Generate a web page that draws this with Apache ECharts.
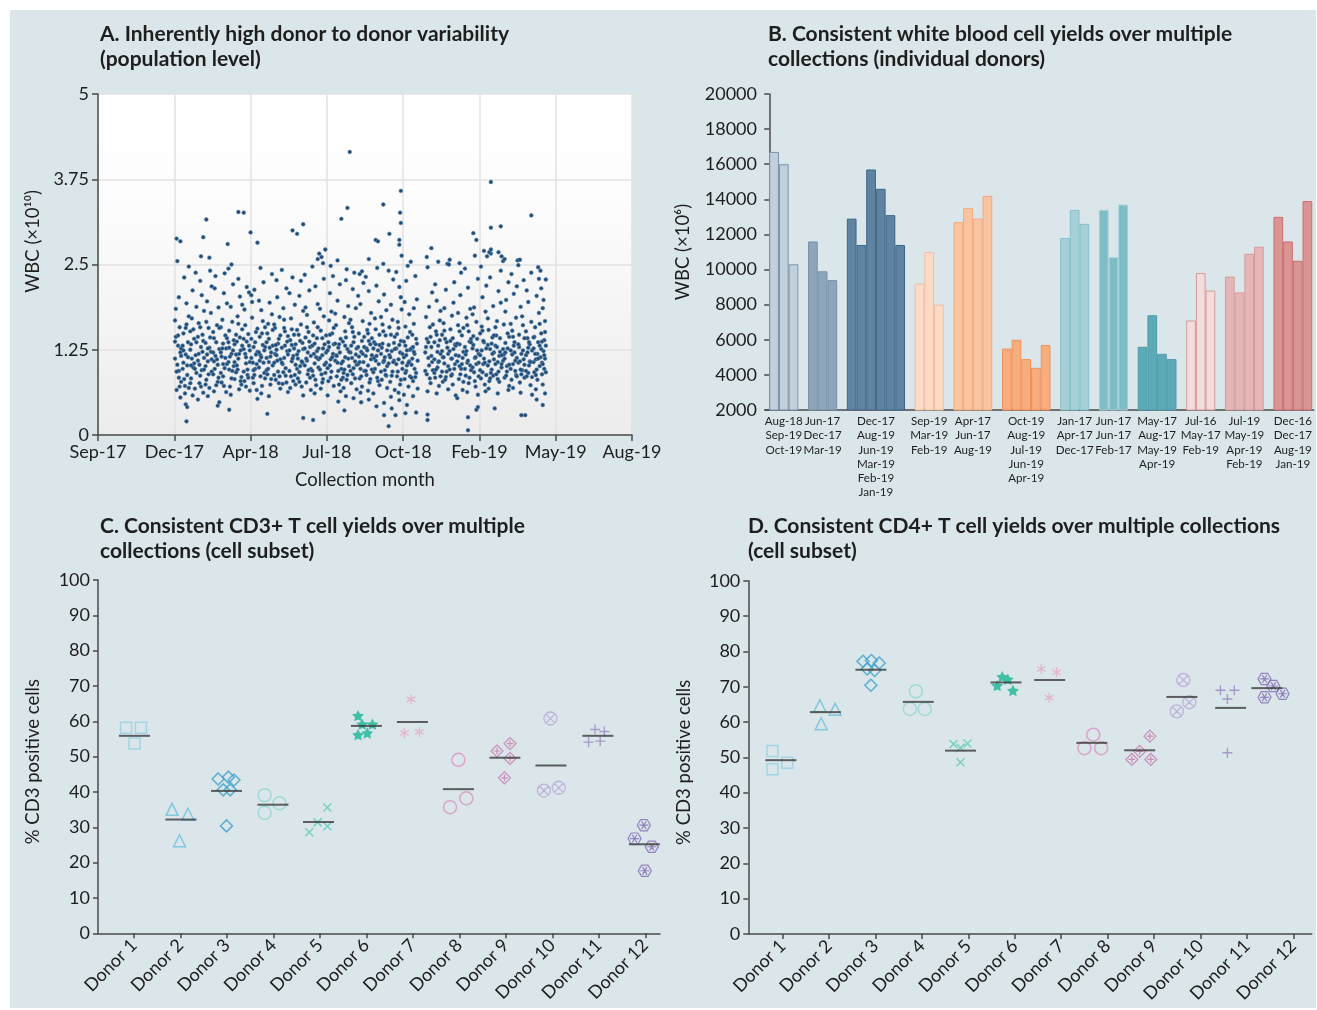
<!DOCTYPE html>
<html><head><meta charset="utf-8">
<script src="https://cdn.jsdelivr.net/npm/echarts/dist/echarts.min.js"></script>
<style>
html,body{margin:0;padding:0;background:#fff;}
#bg{position:absolute;left:10px;top:10px;width:1306px;height:998px;background:#dae6ea;}
#chart{position:absolute;left:0;top:0;width:1317px;height:1010px;}
</style></head><body><div id="bg"></div><div id="chart"></div>
<script>
// ---------- Panel A data ----------
const wbcTickLabels = ['Sep-17','Dec-17','Apr-18','Jul-18','Oct-18','Feb-19','May-19','Aug-19'];
const wbcPoints = [
[1.01,1.12],[1.02,1.85],[1.03,0.66],[1.04,2.55],[1.05,1.31],[1.06,0.94],[1.07,1.58],[1.08,1.21],[1.09,0.78],[1.02,1.44],[1.04,1.03],[1.06,2.02],[1.08,0.55],[1.01,1.68],[1.09,1.27],
[1.11,0.97],[1.12,1.49],[1.13,2.31],[1.14,0.72],[1.15,1.18],[1.16,1.62],[1.17,0.88],[1.18,1.36],[1.19,2.47],[1.12,1.06],[1.14,0.61],[1.16,1.93],[1.18,1.14],[1.15,0.45],[1.19,1.74],
[1.21,1.25],[1.22,0.83],[1.23,1.71],[1.24,2.12],[1.25,0.99],[1.26,1.41],[1.27,0.68],[1.28,1.17],[1.29,1.88],[1.22,1.33],[1.24,0.58],[1.26,1.05],[1.28,2.38],[1.21,1.52],[1.29,0.91],
[1.31,1.09],[1.32,1.64],[1.33,0.76],[1.34,2.26],[1.35,1.29],[1.36,0.95],[1.37,1.47],[1.38,0.62],[1.39,1.82],[1.32,1.19],[1.34,0.87],[1.36,2.05],[1.38,1.38],[1.31,0.52],[1.39,1.13],
[1.41,1.35],[1.42,0.81],[1.43,1.96],[1.44,1.08],[1.45,1.57],[1.46,0.69],[1.47,2.41],[1.48,1.22],[1.49,0.93],[1.42,1.66],[1.44,0.57],[1.46,1.28],[1.48,1.79],[1.41,1.01],[1.49,2.18],
[1.51,0.89],[1.52,1.42],[1.53,2.15],[1.54,1.16],[1.55,0.73],[1.56,1.61],[1.57,1.03],[1.58,1.87],[1.59,1.26],[1.52,0.64],[1.54,2.33],[1.56,1.11],[1.58,0.84],[1.51,1.51],[1.59,0.48],
[1.61,1.21],[1.62,0.77],[1.63,1.69],[1.64,1.34],[1.65,2.08],[1.66,0.98],[1.67,1.46],[1.68,0.63],[1.69,1.93],[1.62,1.15],[1.64,0.86],[1.66,2.37],[1.68,1.27],[1.61,1.58],[1.69,1.04],
[1.71,1.07],[1.72,1.53],[1.73,0.71],[1.74,1.88],[1.75,1.19],[1.76,0.94],[1.77,2.21],[1.78,1.39],[1.79,0.82],[1.72,1.28],[1.74,0.59],[1.76,1.66],[1.78,1.01],[1.71,2.44],[1.79,1.33],
[1.81,0.92],[1.82,1.37],[1.83,1.74],[1.84,1.12],[1.85,0.67],[1.86,2.03],[1.87,1.24],[1.88,0.85],[1.89,1.55],[1.82,1.02],[1.84,2.29],[1.86,1.43],[1.88,0.74],[1.81,1.18],[1.89,1.91],
[1.91,1.26],[1.92,0.79],[1.93,1.61],[1.94,1.05],[1.95,2.17],[1.96,0.96],[1.97,1.48],[1.98,1.31],[1.99,0.65],[1.92,1.84],[1.94,1.14],[1.96,0.88],[1.98,2.09],[1.91,1.41],[1.99,1.07],
[2.01,1.13],[2.02,1.72],[2.03,0.84],[2.04,1.29],[2.05,2.13],[2.06,0.97],[2.07,1.51],[2.08,0.66],[2.09,1.22],[2.02,1.95],[2.04,0.76],[2.06,1.36],[2.08,1.04],[2.01,2.05],[2.09,0.53],
[2.11,0.99],[2.12,1.44],[2.13,1.17],[2.14,1.83],[2.15,0.72],[2.16,1.32],[2.17,2.24],[2.18,0.91],[2.19,1.58],[2.12,1.09],[2.14,0.61],[2.16,1.67],[2.18,1.24],[2.11,1.97],[2.19,0.83],
[2.21,1.36],[2.22,0.89],[2.23,1.63],[2.24,1.07],[2.25,1.94],[2.26,0.74],[2.27,1.21],[2.28,2.36],[2.29,1.02],[2.22,1.49],[2.24,0.57],[2.26,1.15],[2.28,1.77],[2.21,0.95],[2.29,1.31],
[2.31,1.06],[2.32,1.57],[2.33,0.81],[2.34,1.25],[2.35,2.02],[2.36,0.93],[2.37,1.41],[2.38,1.73],[2.39,0.68],[2.32,1.19],[2.34,2.27],[2.36,1.34],[2.38,0.86],[2.31,1.62],[2.39,1.11],
[2.41,1.28],[2.42,0.75],[2.43,1.86],[2.44,1.13],[2.45,1.52],[2.46,0.98],[2.47,2.15],[2.48,1.37],[2.49,0.63],[2.42,1.04],[2.44,1.69],[2.46,0.87],[2.48,1.23],[2.41,2.42],[2.49,1.45],
[2.51,0.94],[2.52,1.39],[2.53,1.71],[2.54,1.08],[2.55,2.31],[2.56,0.79],[2.57,1.27],[2.58,1.91],[2.59,1.03],[2.52,0.69],[2.54,1.55],[2.56,1.16],[2.58,0.88],[2.51,2.08],[2.59,1.33],
[2.61,1.18],[2.62,0.83],[2.63,1.47],[2.64,2.04],[2.65,1.01],[2.66,1.62],[2.67,0.71],[2.68,1.35],[2.69,1.82],[2.62,1.12],[2.64,0.92],[2.66,2.26],[2.68,1.06],[2.61,1.54],[2.69,0.58],
[2.71,1.02],[2.72,1.43],[2.73,0.77],[2.74,1.76],[2.75,1.21],[2.76,0.95],[2.77,2.12],[2.78,1.29],[2.79,0.66],[2.72,1.87],[2.74,1.09],[2.76,1.51],[2.78,0.84],[2.71,2.35],[2.79,1.16],
[2.81,1.31],[2.82,0.87],[2.83,1.65],[2.84,1.05],[2.85,2.18],[2.86,0.73],[2.87,1.23],[2.88,1.92],[2.89,0.99],[2.82,1.46],[2.84,0.61],[2.86,1.14],[2.88,1.58],[2.81,2.47],[2.89,1.27],
[2.91,0.96],[2.92,1.53],[2.93,2.61],[2.94,1.17],[2.95,0.82],[2.96,1.74],[2.97,1.33],[2.98,2.72],[2.99,1.06],[2.92,0.68],[2.94,1.42],[2.96,2.29],[2.98,0.91],[2.91,1.85],[2.99,1.21],[2.95,2.52],
[3.01,1.24],[3.02,0.79],[3.03,1.68],[3.04,2.08],[3.05,1.11],[3.06,0.93],[3.07,1.49],[3.08,2.33],[3.09,0.72],[3.02,1.36],[3.04,1.02],[3.06,1.81],[3.08,1.19],[3.01,0.58],[3.09,1.57],[3.05,2.48],
[3.11,1.09],[3.12,1.61],[3.13,0.86],[3.14,1.97],[3.15,1.28],[3.16,0.74],[3.17,2.21],[3.18,1.41],[3.19,0.97],[3.12,1.17],[3.14,2.56],[3.16,1.33],[3.18,0.64],[3.11,1.78],[3.19,1.05],[3.15,0.49],
[3.21,1.37],[3.22,0.91],[3.23,1.73],[3.24,1.14],[3.25,2.27],[3.26,0.81],[3.27,1.26],[3.28,1.89],[3.29,1.01],[3.22,0.69],[3.24,1.52],[3.26,2.43],[3.28,1.12],[3.21,0.84],[3.29,1.64],[3.25,0.57],
[3.31,1.21],[3.32,0.76],[3.33,1.58],[3.34,2.14],[3.35,0.98],[3.36,1.44],[3.37,1.08],[3.38,1.86],[3.39,0.67],[3.32,1.31],[3.34,0.89],[3.36,2.38],[3.38,1.18],[3.31,1.69],[3.39,1.03],[3.35,0.54],
[3.41,1.04],[3.42,1.49],[3.43,0.83],[3.44,1.92],[3.45,1.22],[3.46,0.71],[3.47,1.67],[3.48,2.23],[3.49,0.94],[3.42,1.15],[3.44,0.62],[3.46,1.38],[3.48,1.07],[3.41,2.04],[3.49,1.29],[3.45,0.48],
[3.51,1.16],[3.52,0.88],[3.53,1.54],[3.54,1.02],[3.55,2.11],[3.56,0.77],[3.57,1.33],[3.58,1.79],[3.59,0.96],[3.52,1.27],[3.54,0.65],[3.56,1.63],[3.58,1.11],[3.51,2.32],[3.59,1.42],[3.55,0.52],
[3.61,0.92],[3.62,1.36],[3.63,1.71],[3.64,1.09],[3.65,2.19],[3.66,0.84],[3.67,1.24],[3.68,1.96],[3.69,0.73],[3.62,1.13],[3.64,1.55],[3.66,2.45],[3.68,1.04],[3.61,0.61],[3.69,1.32],[3.65,0.42],
[3.71,1.19],[3.72,0.81],[3.73,1.62],[3.74,1.07],[3.75,2.06],[3.76,0.95],[3.77,1.46],[3.78,1.83],[3.79,0.69],[3.72,1.28],[3.74,2.51],[3.76,1.14],[3.78,0.87],[3.71,1.73],[3.79,1.01],[3.75,0.47],
[3.81,1.05],[3.82,1.58],[3.83,0.78],[3.84,1.91],[3.85,1.23],[3.86,0.93],[3.87,2.28],[3.88,1.35],[3.89,0.66],[3.82,1.17],[3.84,0.56],[3.86,1.69],[3.88,1.09],[3.81,2.41],[3.89,1.44],[3.85,0.39],
[3.91,1.27],[3.92,0.86],[3.93,1.66],[3.94,1.11],[3.95,2.17],[3.96,0.74],[3.97,1.38],[3.98,2.63],[3.99,0.97],[3.92,1.48],[3.94,0.62],[3.96,1.21],[3.98,1.84],[3.91,2.39],[3.99,1.06],[3.95,0.51],[3.97,2.02],
[4.01,1.14],[4.02,0.82],[4.03,1.59],[4.04,2.26],[4.05,1.02],[4.06,1.43],[4.07,0.71],[4.08,1.77],[4.09,1.25],[4.02,1.95],[4.04,0.94],[4.06,2.48],[4.08,1.08],[4.01,0.59],[4.09,1.51],[4.05,0.44],[4.03,1.31],
[4.11,1.03],[4.12,1.47],[4.13,0.79],[4.14,1.86],[4.15,1.19],[4.16,2.33],[4.17,0.91],[4.18,1.34],[4.19,0.68],[4.12,1.12],[4.14,1.63],[4.16,0.85],[4.18,1.99],[4.11,1.27],[4.13,0.57],
[4.29,1.21],[4.30,1.73],[4.31,0.89],[4.32,2.46],[4.33,1.36],[4.34,1.02],[4.35,1.58],[4.36,0.76],[4.37,1.16],[4.38,2.09],[4.39,0.95],[4.30,1.29],[4.32,0.64],[4.34,1.88],[4.36,1.44],[4.31,2.61],[4.38,1.07],
[4.41,1.11],[4.42,0.84],[4.43,1.52],[4.44,1.97],[4.45,0.99],[4.46,1.31],[4.47,0.72],[4.48,1.68],[4.49,1.19],[4.42,2.21],[4.44,0.61],[4.46,1.07],[4.48,1.39],[4.41,0.91],[4.49,1.82],
[4.51,1.23],[4.52,0.78],[4.53,1.64],[4.54,1.05],[4.55,1.41],[4.56,2.13],[4.57,0.93],[4.58,1.28],[4.59,0.67],[4.52,1.14],[4.54,1.86],[4.56,0.85],[4.58,2.51],[4.51,1.47],[4.59,1.01],
[4.61,0.96],[4.62,1.38],[4.63,1.12],[4.64,1.75],[4.65,0.74],[4.66,1.26],[4.67,2.24],[4.68,1.04],[4.69,0.58],[4.62,1.55],[4.64,0.89],[4.66,1.94],[4.68,1.33],[4.61,2.57],[4.69,1.17],
[4.71,1.08],[4.72,1.61],[4.73,0.82],[4.74,1.33],[4.75,2.05],[4.76,0.97],[4.77,1.46],[4.78,0.66],[4.79,1.22],[4.72,1.79],[4.74,1.01],[4.76,2.38],[4.78,1.13],[4.71,0.54],[4.79,1.57],
[4.81,1.29],[4.82,0.87],[4.83,1.72],[4.84,1.06],[4.85,2.16],[4.86,0.76],[4.87,1.37],[4.88,1.85],[4.89,0.95],[4.82,1.18],[4.84,0.63],[4.86,1.52],[4.88,1.02],[4.81,2.44],[4.89,1.41],
[4.91,0.99],[4.92,1.45],[4.93,1.87],[4.94,1.13],[4.95,0.71],[4.96,1.66],[4.97,1.24],[4.98,2.29],[4.99,0.86],[4.92,1.32],[4.94,2.63],[4.96,1.04],[4.98,0.59],[4.91,1.77],[4.99,1.19],
[5.01,1.17],[5.02,0.83],[5.03,1.59],[5.04,2.02],[5.05,1.04],[5.06,1.36],[5.07,0.74],[5.08,1.81],[5.09,1.27],[5.02,2.47],[5.04,0.92],[5.06,1.12],[5.08,0.64],[5.01,1.49],[5.09,2.19],
[5.11,1.02],[5.12,1.54],[5.13,0.79],[5.14,1.26],[5.15,2.66],[5.16,0.96],[5.17,1.43],[5.18,1.89],[5.19,1.11],[5.12,0.68],[5.14,2.31],[5.16,1.34],[5.18,0.87],[5.11,1.71],[5.19,1.21],[5.15,2.72],
[5.21,1.31],[5.22,0.89],[5.23,1.67],[5.24,1.07],[5.25,2.11],[5.26,0.78],[5.27,1.22],[5.28,1.94],[5.29,0.99],[5.22,1.46],[5.24,0.61],[5.26,1.16],[5.28,2.41],[5.21,1.58],[5.29,1.04],
[5.31,1.09],[5.32,1.62],[5.33,0.84],[5.34,1.35],[5.35,1.98],[5.36,0.93],[5.37,1.27],[5.38,2.24],[5.39,0.72],[5.32,1.18],[5.34,1.81],[5.36,1.01],[5.38,0.66],[5.31,2.55],[5.39,1.44],
[5.41,1.24],[5.42,0.81],[5.43,1.53],[5.44,1.04],[5.45,2.07],[5.46,1.36],[5.47,0.94],[5.48,1.72],[5.49,1.13],[5.42,2.36],[5.44,0.69],[5.46,1.21],[5.48,0.88],[5.41,1.63],[5.49,2.18],
[5.51,1.06],[5.52,1.47],[5.53,0.77],[5.54,1.88],[5.55,1.19],[5.56,0.95],[5.57,1.61],[5.58,2.27],[5.59,1.03],[5.52,1.29],[5.54,0.62],[5.56,1.74],[5.58,1.11],[5.51,2.49],[5.59,0.84],
[5.61,1.17],[5.62,0.86],[5.63,1.42],[5.64,1.95],[5.65,1.02],[5.66,1.33],[5.67,0.73],[5.68,1.66],[5.69,1.24],[5.62,2.12],[5.64,0.91],[5.66,1.08],[5.68,2.38],[5.61,1.52],[5.69,0.59],
[5.71,1.27],[5.72,0.92],[5.73,1.58],[5.74,1.11],[5.75,2.04],[5.76,0.81],[5.77,1.36],[5.78,1.79],[5.79,1.01],[5.72,1.44],[5.74,0.67],[5.76,1.19],[5.78,2.29],[5.71,1.07],[5.79,1.63],[5.75,0.52],[5.77,2.46],
[5.80,1.14],[5.81,1.49],[5.82,0.89],[5.83,1.86],[5.84,1.23],[5.85,0.97],[5.86,1.67],[5.87,1.31],[5.81,2.15],[5.83,0.74],[5.85,1.39],[5.87,2.28],[5.82,1.06],[5.84,1.98],[5.86,0.61],[5.80,2.41],[5.86,1.12],
[3.30,4.15],[5.15,3.71],[3.97,3.58],[3.74,3.38],[5.68,3.22],[3.27,3.33],[3.19,3.17],[5.15,3.04],[5.28,3.06],[3.96,3.26],[3.82,2.95],[3.64,2.86],[3.67,2.84],[3.95,2.86],[3.97,3.11],
[1.42,3.16],[1.84,3.27],[1.91,3.26],[2.55,3.00],[2.61,2.95],[2.69,3.09],[1.38,2.90],[2.00,2.97],[2.09,2.82],[1.70,2.80],[1.03,2.88],[1.08,2.84],
[1.16,0.20],[1.17,0.41],[2.69,0.25],[2.82,0.22],[2.22,0.31],[1.72,0.37],[1.57,0.43],[2.96,0.33],[4.85,0.07],[4.85,0.26],[3.81,0.13],[3.75,0.29],[3.90,0.29],[4.32,0.22],[4.32,0.30],[4.17,0.33],[4.03,0.32],[3.23,0.36],[4.96,0.37],[5.60,0.29],[5.55,0.29],[5.20,0.39],[5.83,0.44],[4.98,0.41],
[4.37,2.74],[4.46,2.54],[4.60,2.50],[4.74,2.52],[4.92,2.96],[4.96,2.86],[5.06,2.70],[5.10,2.62],[5.13,2.68],[5.25,2.68],[5.29,2.62],[5.33,2.58],[5.50,2.56],[5.53,2.57],[3.95,2.79],[4.10,2.54],[3.55,2.58],[3.43,2.36],[3.46,2.40],[2.90,2.66],[2.88,2.58],[2.13,2.45],[1.35,2.62],[1.46,2.60],[1.75,2.50],
[1.03,0.93],[1.05,1.46],[1.07,0.71],[1.09,1.16],[1.01,1.37],[1.06,0.84],[1.11,1.31],[1.13,0.82],[1.15,1.57],[1.17,1.02],[1.19,0.69],[1.12,1.24],
[1.21,0.76],[1.23,1.12],[1.25,1.55],[1.27,0.97],[1.29,1.36],[1.22,1.02],[1.31,1.44],[1.33,1.03],[1.35,0.71],[1.37,1.22],[1.39,0.96],[1.34,1.58],
[1.41,0.74],[1.43,1.18],[1.45,0.89],[1.47,1.43],[1.49,1.11],[1.44,1.27],[1.51,1.21],[1.53,0.97],[1.55,1.36],[1.57,0.78],[1.59,1.57],[1.52,1.08],
[1.61,0.91],[1.63,1.27],[1.65,0.72],[1.67,1.13],[1.69,1.42],[1.64,1.04],[1.71,1.36],[1.73,1.15],[1.75,0.83],[1.77,1.24],[1.79,1.07],[1.72,0.96],
[1.81,1.47],[1.83,0.96],[1.85,1.19],[1.87,0.79],[1.89,1.31],[1.84,1.63],[1.91,0.93],[1.93,1.19],[1.95,1.37],[1.97,0.84],[1.99,1.24],[1.94,0.71],
[2.01,1.41],[2.03,1.06],[2.05,0.88],[2.07,1.18],[2.09,1.56],[2.04,0.95],[2.11,1.21],[2.13,0.86],[2.15,1.49],[2.17,1.06],[2.19,1.29],[2.14,1.14],
[2.21,1.13],[2.23,0.97],[2.25,1.28],[2.27,0.82],[2.29,1.54],[2.24,1.41],[2.31,0.88],[2.33,1.32],[2.35,1.09],[2.37,0.76],[2.39,1.46],[2.34,1.17],
[2.41,1.06],[2.43,0.92],[2.45,1.31],[2.47,0.77],[2.49,1.18],[2.44,1.57],[2.51,1.24],[2.53,0.86],[2.55,1.12],[2.57,1.47],[2.59,0.74],[2.54,1.32],
[2.61,0.97],[2.63,1.23],[2.65,1.38],[2.67,1.08],[2.69,1.26],[2.64,0.78],[2.71,1.27],[2.73,1.12],[2.75,0.89],[2.77,1.37],[2.79,0.97],[2.74,1.58],
[2.81,0.94],[2.83,1.19],[2.85,0.81],[2.87,1.42],[2.89,1.11],[2.84,1.34],[2.91,1.13],[2.93,0.89],[2.95,1.27],[2.97,1.03],[2.99,1.46],[2.94,0.77],
[3.01,0.98],[3.03,1.29],[3.05,0.84],[3.07,1.14],[3.09,1.33],[3.04,1.47],[3.11,1.34],[3.13,1.16],[3.15,0.94],[3.17,1.21],[3.19,0.81],[3.14,1.06],
[3.21,1.08],[3.23,0.96],[3.25,1.43],[3.27,0.88],[3.29,1.22],[3.24,1.31],[3.31,0.94],[3.33,1.13],[3.35,1.36],[3.37,0.83],[3.39,1.27],[3.34,1.51],
[3.41,1.29],[3.43,1.07],[3.45,0.86],[3.47,1.19],[3.49,1.44],[3.44,0.97],[3.51,0.94],[3.53,1.24],[3.55,1.38],[3.57,0.82],[3.59,1.17],[3.54,1.49],
[3.61,1.27],[3.63,0.97],[3.65,1.16],[3.67,0.79],[3.69,1.47],[3.64,1.33],[3.71,0.93],[3.73,1.34],[3.75,1.09],[3.77,0.88],[3.79,1.24],[3.74,1.52],
[3.81,1.32],[3.83,1.14],[3.85,0.87],[3.87,1.07],[3.89,1.26],[3.84,1.47],[3.91,1.04],[3.93,0.93],[3.95,1.32],[3.97,0.81],[3.99,1.19],[3.94,1.57],
[4.01,1.37],[4.03,0.91],[4.05,1.24],[4.07,1.06],[4.09,0.86],[4.04,1.17],[4.11,0.84],[4.13,1.29],[4.15,0.97],[4.17,1.41],[4.19,1.09],[4.14,1.22],
[4.29,0.94],[4.31,1.41],[4.33,1.13],[4.35,0.83],[4.37,1.29],[4.39,1.62],[4.41,1.36],[4.43,0.96],[4.45,1.22],[4.47,1.08],[4.49,0.86],[4.44,1.47],
[4.51,0.93],[4.53,1.14],[4.55,0.81],[4.57,1.36],[4.59,1.19],[4.54,1.53],[4.61,1.23],[4.63,0.87],[4.65,1.42],[4.67,0.97],[4.69,1.31],[4.64,1.12],
[4.71,1.34],[4.73,1.16],[4.75,0.89],[4.77,1.04],[4.79,0.78],[4.74,1.52],[4.81,0.97],[4.83,1.23],[4.85,1.09],[4.87,0.84],[4.89,1.36],[4.84,1.61],
[4.91,1.27],[4.93,0.92],[4.95,1.14],[4.97,1.41],[4.99,1.06],[4.94,0.79],[5.01,0.95],[5.03,1.24],[5.05,1.38],[5.07,1.06],[5.09,0.88],[5.04,1.53],
[5.11,1.32],[5.13,1.08],[5.15,0.91],[5.17,1.19],[5.19,1.46],[5.14,0.83],[5.21,1.04],[5.23,1.29],[5.25,0.93],[5.27,1.42],[5.29,1.17],[5.24,0.82],
[5.31,1.26],[5.33,1.12],[5.35,0.87],[5.37,1.49],[5.39,1.03],[5.34,1.21],[5.41,0.97],[5.43,1.18],[5.45,1.31],[5.47,1.09],[5.49,0.86],[5.44,1.44],
[5.51,1.33],[5.53,1.08],[5.55,0.89],[5.57,1.24],[5.59,1.42],[5.54,0.96],[5.61,0.94],[5.63,1.21],[5.65,1.36],[5.67,1.07],[5.69,0.85],[5.64,1.28],
[5.71,1.43],[5.73,1.19],[5.75,0.96],[5.77,1.12],[5.79,1.31],[5.74,0.88],[5.81,1.26],[5.83,1.04],[5.85,1.17],[5.87,0.92],[5.82,1.37],[5.86,1.51]
];

// ---------- Panel B data ----------
const donorGroupMonths = [
  ['Aug-18','Sep-19','Oct-19'],
  ['Jun-17','Dec-17','Mar-19'],
  ['Dec-17','Aug-19','Jun-19','Mar-19','Feb-19','Jan-19'],
  ['Sep-19','Mar-19','Feb-19'],
  ['Apr-17','Jun-17','Aug-19'],
  ['Oct-19','Aug-19','Jul-19','Jun-19','Apr-19'],
  ['Jan-17','Apr-17','Dec-17'],
  ['Jun-17','Jun-17','Feb-17'],
  ['May-17','Aug-17','May-19','Apr-19'],
  ['Jul-16','May-17','Feb-19'],
  ['Jul-19','May-19','Apr-19','Feb-19'],
  ['Dec-16','Dec-17','Aug-19','Jan-19']
];
const donorGroupValues = [
  [16700,16000,10300],
  [11600,9900,9400],
  [12900,11400,15700,14600,13100,11400],
  [9200,11000,8000],
  [12700,13500,12900,14200],
  [5500,6000,4900,4400,5700],
  [11800,13400,12600],
  [13400,10700,13700],
  [5600,7400,5200,4900],
  [7100,9800,8800],
  [9600,8700,10900,11300],
  [13000,11600,10500,13900]
];
const wbcYTicks = [2000, 20000, 2000]; // min, max, step

// ---------- Panels C & D data ----------
const donorNames = ['Donor 1','Donor 2','Donor 3','Donor 4','Donor 5','Donor 6','Donor 7','Donor 8','Donor 9','Donor 10','Donor 11','Donor 12'];
const cd3Points = [
  [[0.83,58.2],[1.15,58.2],[1.01,53.7]],
  [[1.82,35.1],[2.16,33.7],[1.98,26.2]],
  [[2.81,43.7],[3.03,44.2],[3.15,43.4],[2.92,40.6],[3.07,40.6],[2.99,30.4]],
  [[3.81,39.1],[4.13,36.8],[3.81,34.1]],
  [[5.16,35.6],[4.95,31.4],[5.16,30.3],[4.77,28.6]],
  [[5.82,61.6],[5.91,59.2],[6.13,59.2],[5.82,56.2],[6.02,56.7]],
  [[6.96,66.2],[6.82,56.7],[7.14,57.0]],
  [[7.98,49.1],[8.15,38.2],[7.80,35.7]],
  [[8.81,51.6],[9.09,53.7],[9.09,49.5],[8.97,44.0]],
  [[9.96,60.8],[9.82,40.4],[10.14,41.2]],
  [[10.92,57.7],[11.12,57.1],[10.78,54.1],[11.03,54.4]],
  [[11.97,30.6],[11.77,26.8],[12.14,24.5],[11.99,17.7]]
];
const cd3Means = [[1.01,55.9],[2.01,32.2],[2.99,40.3],[3.99,36.4],[4.97,31.5],[6.00,58.7],[6.99,59.8],[7.98,40.8],[8.98,49.7],[9.97,47.5],[10.98,55.9],[11.98,25.2]];
const cd4Points = [
  [[0.78,51.8],[0.78,46.6],[1.10,48.5]],
  [[1.80,64.6],[2.13,63.6],[1.83,59.5]],
  [[2.73,77.2],[2.91,77.4],[3.08,76.7],[2.82,75.0],[2.98,74.6],[2.90,70.4]],
  [[3.87,68.7],[3.74,63.7],[4.06,63.7]],
  [[4.68,53.8],[4.83,52.7],[4.98,53.9],[4.83,48.6]],
  [[5.73,72.8],[5.85,72.1],[5.62,70.3],[5.96,68.9]],
  [[6.57,75.0],[6.90,74.1],[6.74,66.9]],
  [[7.69,56.4],[7.50,52.6],[7.86,52.6]],
  [[8.91,56.0],[8.69,51.7],[8.52,49.4],[8.93,49.4]],
  [[9.63,71.9],[9.76,65.6],[9.49,63.0]],
  [[10.43,69.0],[10.73,69.0],[10.58,66.5],[10.58,51.3]],
  [[11.38,72.2],[11.57,70.2],[11.77,68.0],[11.38,67.0]]
];
const cd4Means = [[0.96,49.2],[1.92,62.8],[2.90,74.8],[3.92,65.7],[4.83,51.9],[5.81,71.2],[6.75,71.9],[7.66,54.1],[8.69,52.0],[9.60,67.1],[10.65,64.0],[11.43,69.6]];
const donorTicks = [1,2,3,4,5,6,7,8,9,10,11,12];
const pctTicks = [0, 100, 10];

// ---------- styles ----------
const FONT = 'Lato';
const TXT = '#1e1e1e';
const AX = '#4a4a4a';
const TICK_FS = 18;
const NAME_FS = 18.5;
const groupFill = ['#c2d0db','#8ea6bc','#5f84a2','#fddbc6','#fac4a0','#f7ad7e','#a6d0d7','#80bcc6','#5caab7','#f3dcdc','#e6b5b5','#db9494'];
const groupBorder = ['#7b94ad','#7790a8','#3f6586','#f6bc9b','#f3a87c','#ef9159','#86c0ca','#a3d1d8','#4e9dab','#d49a9a','#d29c9c','#c86d6d'];
const donorSymbols = [
  'rect','triangle','diamond','circle',
  'path://M0,0L10,10M10,0L0,10',
  'path://M10,0L12.94,5.95L19.51,6.91L14.76,11.55L15.88,18.09L10,15L4.12,18.09L5.24,11.55L0.49,6.91L7.06,5.95Z',
  'path://M5,0L5,10M0.67,2.5L9.33,7.5M0.67,7.5L9.33,2.5',
  'circle',
  'path://M5,0L10,5L5,10L0,5ZM5,2.2L5,7.8M2.2,5L7.8,5',
  'path://M10,5A5,5,0,1,1,0,5A5,5,0,1,1,10,5ZM1.46,1.46L8.54,8.54M8.54,1.46L1.46,8.54',
  'path://M5,0L5,10M0,5L10,5',
  'path://M2.5,0.67L7.5,0.67L10,5L7.5,9.33L2.5,9.33L0,5ZM3.3,2L6.7,8M6.7,2L3.3,8M1.5,5L8.5,5'
];
const donorSizes = [11,12,12,13,8,12,10,13,12,13,10,13];
const donorWidths = [1.5,1.5,1.5,1.5,1.5,0,1.3,1.5,1.2,1.3,1.4,1.2];
const donorColors = ['#93d1e1','#6cbfd9','#3ca0cb','#8fd7d0','#5ecab8','#3fbfa5','#e6a8c8','#da93bf','#c875ad','#b8a6d8','#9886c3','#7f6bb1'];
const donorFilled = [false,false,false,false,false,true,false,false,false,false,false,false];

// ---------- build bars ----------
const barData = [];
const groupCenters = [];
let slot = 0;
donorGroupValues.forEach((vals, g) => {
  vals.forEach((v, i) => {
    barData.push({ value: [slot + i + 0.5, v], itemStyle: { color: groupFill[g], borderColor: groupBorder[g], borderWidth: 1 } });
  });
  groupCenters.push(slot + vals.length / 2);
  slot += vals.length + 1;
});

const chart = echarts.init(document.getElementById('chart'), null, { renderer: 'canvas' });

function axisLineStyle() { return { show: true, lineStyle: { color: AX, width: 1.5 } }; }
function lbl(extra) { return Object.assign({ color: TXT, fontFamily: FONT, fontSize: TICK_FS, showMinLabel: true, showMaxLabel: true, hideOverlap: false }, extra || {}); }
function nameStyle(extra) { return Object.assign({ color: TXT, fontFamily: FONT, fontSize: NAME_FS }, extra || {}); }

function donorSeries(points, means, idx) {
  const out = points.map((pts, d) => ({
    type: 'scatter', xAxisIndex: idx, yAxisIndex: idx, data: pts,
    symbol: donorSymbols[d], symbolSize: donorSizes[d], symbolKeepAspect: true,
    itemStyle: donorFilled[d] ? { color: donorColors[d], opacity: 1 } : { color: 'rgba(0,0,0,0)', borderColor: donorColors[d], borderWidth: donorWidths[d] },
    silent: true, z: 3, clip: false
  }));
  out.push({
    type: 'scatter', xAxisIndex: idx, yAxisIndex: idx, data: means,
    symbol: 'rect', symbolSize: [31, 2], itemStyle: { color: '#3b3b3b' }, silent: true, z: 4, clip: false
  });
  return out;
}

const titleStyle = { color: TXT, fontFamily: FONT, fontSize: 21, fontWeight: 'bold', lineHeight: 25 };

const option = {
  animation: false,
  backgroundColor: 'transparent',
  textStyle: { fontFamily: FONT },
  title: [
    { text: 'A. Inherently high donor to donor variability\n(population level)', left: 100, top: 22, padding: 0, textStyle: titleStyle },
    { text: 'B. Consistent white blood cell yields over multiple\ncollections (individual donors)', left: 768, top: 22, padding: 0, textStyle: titleStyle },
    { text: 'C. Consistent CD3+ T cell yields over multiple\ncollections (cell subset)', left: 100, top: 514, padding: 0, textStyle: titleStyle },
    { text: 'D. Consistent CD4+ T cell yields over multiple collections\n(cell subset)', left: 748, top: 514, padding: 0, textStyle: titleStyle }
  ],
  grid: [
    { left: 98, top: 94, width: 534, height: 341, show: true, borderWidth: 0,
      backgroundColor: new echarts.graphic.LinearGradient(0, 0, 0, 1, [{ offset: 0, color: '#ffffff' }, { offset: 0.3, color: '#fdfdfd' }, { offset: 1, color: '#ececec' }]),
      containLabel: false, outerBoundsMode: 'none' },
    { left: 765, top: 94, width: 548.7, height: 316, containLabel: false, outerBoundsMode: 'none' },
    { left: 98, top: 580, width: 562, height: 353.3, containLabel: false, outerBoundsMode: 'none' },
    { left: 748.3, top: 580.7, width: 563.4, height: 353.3, containLabel: false, outerBoundsMode: 'none' }
  ],
  xAxis: [
    { gridIndex: 0, type: 'value', min: 0, max: 7, interval: 1,
      axisLine: axisLineStyle(), axisTick: { show: true, length: 6, lineStyle: { color: AX, width: 1.5 } },
      splitLine: { show: true, lineStyle: { color: '#e2e2e2', width: 1.5 } },
      axisLabel: lbl({ margin: 8, formatter: v => wbcTickLabels[Math.round(v)] || '' }),
      name: 'Collection month', nameLocation: 'middle', nameGap: 36, nameTextStyle: nameStyle() },
    { gridIndex: 1, type: 'value', min: -0.44, max: 56.15,
      axisLine: axisLineStyle(), axisTick: { show: false }, splitLine: { show: false },
      axisLabel: { show: true, customValues: groupCenters, color: TXT, fontFamily: FONT, fontSize: 11.6, lineHeight: 14.3, margin: 4,
        hideOverlap: false, showMinLabel: true, showMaxLabel: true,
        formatter: v => { const g = groupCenters.findIndex(c => Math.abs(c - v) < 0.01); return g < 0 ? '' : donorGroupMonths[g].join('\n'); } } },
    { gridIndex: 2, type: 'value', min: 0.2255, max: 12.317,
      axisLine: axisLineStyle(), axisTick: { show: true, customValues: donorTicks, length: 5, lineStyle: { color: AX, width: 1.5 } }, splitLine: { show: false },
      axisLabel: lbl({ customValues: donorTicks, rotate: 45, margin: 9, formatter: v => donorNames[Math.round(v) - 1] }) },
    { gridIndex: 3, type: 'value', min: 0.259, max: 12.396,
      axisLine: axisLineStyle(), axisTick: { show: true, customValues: donorTicks, length: 5, lineStyle: { color: AX, width: 1.5 } }, splitLine: { show: false },
      axisLabel: lbl({ customValues: donorTicks, rotate: 45, margin: 9, formatter: v => donorNames[Math.round(v) - 1] }) }
  ],
  yAxis: [
    { gridIndex: 0, type: 'value', min: 0, max: 5, interval: 1.25,
      axisLine: axisLineStyle(), axisTick: { show: true, length: 6, lineStyle: { color: AX, width: 1.5 } },
      splitLine: { show: true, lineStyle: { color: '#e2e2e2', width: 1.5 } },
      axisLabel: lbl({ margin: 9 }),
      name: 'WBC (×10¹⁰)', nameLocation: 'middle', nameGap: 55, nameTextStyle: nameStyle({ padding: [0, 0, 0, 46] }) },
    { gridIndex: 1, type: 'value', min: wbcYTicks[0], max: wbcYTicks[1], interval: wbcYTicks[2],
      axisLine: axisLineStyle(), axisTick: { show: true, length: 5, lineStyle: { color: AX, width: 1.5 } }, splitLine: { show: false },
      axisLabel: lbl({ margin: 8, formatter: v => String(v) }),
      name: 'WBC (×10⁶)', nameLocation: 'middle', nameGap: 72, nameTextStyle: nameStyle() },
    { gridIndex: 2, type: 'value', min: pctTicks[0], max: pctTicks[1], interval: pctTicks[2],
      axisLine: axisLineStyle(), axisTick: { show: true, length: 5, lineStyle: { color: AX, width: 1.5 } }, splitLine: { show: false },
      axisLabel: lbl({ margin: 8 }),
      name: '% CD3 positive cells', nameLocation: 'middle', nameGap: 55, nameTextStyle: nameStyle({ padding: [0, 10, 0, 0] }) },
    { gridIndex: 3, type: 'value', min: pctTicks[0], max: pctTicks[1], interval: pctTicks[2],
      axisLine: axisLineStyle(), axisTick: { show: true, length: 5, lineStyle: { color: AX, width: 1.5 } }, splitLine: { show: false },
      axisLabel: lbl({ margin: 8 }),
      name: '% CD3 positive cells', nameLocation: 'middle', nameGap: 55, nameTextStyle: nameStyle({ padding: [0, 10, 0, 0] }) }
  ],
  series: [
    { type: 'scatter', xAxisIndex: 0, yAxisIndex: 0, data: wbcPoints, symbolSize: 3.8, silent: true,
      itemStyle: { color: '#1f4c76', borderColor: '#5f87ad', borderWidth: 0.6, opacity: 1 } },
    { type: 'bar', xAxisIndex: 1, yAxisIndex: 1, data: barData, barWidth: 9.7, clip: true, silent: true }
  ].concat(donorSeries(cd3Points, cd3Means, 2)).concat(donorSeries(cd4Points, cd4Means, 3))
};
chart.setOption(option);
</script></body></html>
